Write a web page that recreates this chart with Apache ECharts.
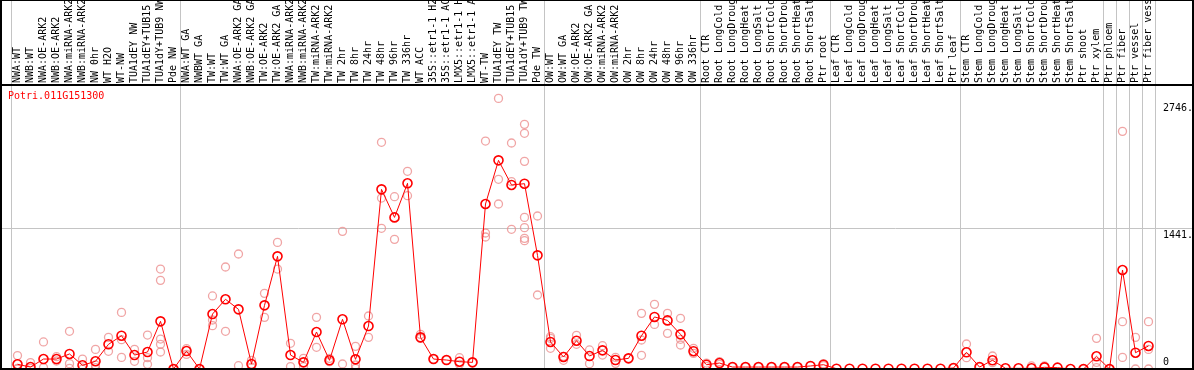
<!DOCTYPE html>
<html>
<head>
<meta charset="utf-8">
<script src="https://cdn.jsdelivr.net/npm/echarts@6/dist/echarts.min.js"></script>
<style>
  html, body { margin: 0; padding: 0; background: #fff; }
  #chart { width: 1194px; height: 370px; }
</style>
</head>
<body>
<div id="chart"></div>
<script>
const geneId = 'Potri.011G151300';

const categories = [
  'NWA:WT', 'NWB:WT', 'NWA:OE-ARK2', 'NWB:OE-ARK2', 'NWA:miRNA-ARK2', 'NWB:miRNA-ARK2',
  'NW 0hr', 'WT H2O', 'WT-NW', 'TUA1dEY NW', 'TUA1dEY+TUB15 NW', 'TUA1dY+TUB9 NW', 'Pde NW',
  'NWA:WT GA', 'NWBWT GA', 'TW:WT', 'TW:WT GA', 'NWA:OE-ARK2 GA', 'NWB:OE-ARK2 GA',
  'TW:OE-ARK2', 'TW:OE-ARK2 GA', 'NWA:miRNA-ARK2 GA', 'NWB:miRNA-ARK2 GA', 'TW:miRNA-ARK2',
  'TW:miRNA-ARK2 GA', 'TW 2hr', 'TW 8hr', 'TW 24hr', 'TW 48hr', 'TW 96hr', 'TW 336hr',
  'WT ACC', '35S::etr1-1 H2O', '35S::etr1-1 ACC', 'LMX5::etr1-1 H2O', 'LMX5::etr1-1 ACC',
  'WT-TW', 'TUA1dEY TW', 'TUA1dEY+TUB15 TW', 'TUA1dY+TUB9 TW', 'Pde TW',
  'OW:WT', 'OW:WT GA', 'OW:OE-ARK2', 'OW:OE-ARK2 GA', 'OW:miRNA-ARK2', 'OW:miRNA-ARK2 GA',
  'OW 2hr', 'OW 8hr', 'OW 24hr', 'OW 48hr', 'OW 96hr', 'OW 336hr',
  'Root CTR', 'Root LongCold', 'Root LongDrought', 'Root LongHeat', 'Root LongSalt',
  'Root ShortCold', 'Root ShortDrought', 'Root ShortHeat', 'Root ShortSalt', 'Ptr root',
  'Leaf CTR', 'Leaf LongCold', 'Leaf LongDrought', 'Leaf LongHeat', 'Leaf LongSalt',
  'Leaf ShortCold', 'Leaf ShortDrought', 'Leaf ShortHeat', 'Leaf ShortSalt', 'Ptr leaf',
  'Stem CTR', 'Stem LongCold', 'Stem LongDrought', 'Stem LongHeat', 'Stem LongSalt',
  'Stem ShortCold', 'Stem ShortDrought', 'Stem ShortHeat', 'Stem ShortSalt', 'Ptr shoot',
  'Ptr xylem', 'Ptr phloem', 'Ptr fiber', 'Ptr vessel', 'Ptr fiber vessel'
];

// first category index of each sample group (group separators)
const groupStarts = [0, 13, 41, 53, 63, 73, 84, 85, 86, 87];

const meanValues = [
  48, 20, 102, 102, 154, 38, 79, 253, 341, 143, 174, 488, 0,
  184, 0, 563, 714, 611, 51, 652, 1154, 143, 68, 379, 89, 509, 99, 440,
  1840, 1553, 1902, 324, 102, 92, 75, 68, 1690, 2137, 1885, 1898, 1164,
  277, 123, 290, 133, 191, 92, 109, 341, 533, 498, 355, 182,
  44, 61, 20, 20, 20, 20, 20, 20, 31, 44,
  3, 3, 3, 3, 3, 3, 3, 3, 3, 10,
  171, 20, 89, 7, 7, 7, 17, 14, 0, 0, 130,
  0, 1014, 167, 236
];

const replicateValues = [
  [137, 7, 0], [65, 7], [277, 14], [126, 82], [386, 55, 7], [102, 0],
  [201, 41, 14], [324, 181], [580, 300, 119], [201, 79], [348, 116, 48],
  [1024, 908, 307, 253, 174], [0],
  [208, 150], [0], [748, 502, 444], [1045, 386], [1178, 34], [89, 14],
  [775, 529], [1297, 1024], [263, 24], [109, 24], [529, 222], [109, 75],
  [1410, 51], [232, 41, 7], [543, 324], [2322, 1751, 1441], [1765, 1328],
  [2025, 1775], [355, 314], [102], [92], [116, 48], [68],
  [2335, 1393, 1352], [2772, 1943, 1690], [2315, 1919, 1431],
  [2506, 2414, 2127, 1553, 1448, 1338, 1314], [1567, 758],
  [331, 314, 212], [130, 89], [345, 253], [195, 55], [239, 143], [119, 58],
  [109], [570, 297, 140], [662, 457], [570, 365], [519, 304, 246], [212, 160],
  [61, 27], [75, 48], [20], [20], [20], [20], [20], [20], [31], [55, 34],
  [], [], [], [], [], [], [], [], [], [10],
  [256, 116], [20], [133, 65], [], [], [31], [31], [], [], [0], [314, 68, 14],
  [0], [2434, 485, 119], [324, 0], [485, 201, 0]
];

const yTickValues = [0, 1441, 2746];
const yTickLabels = ['0', '1441.', '2746.'];
const gridLineValues = [1441];
const yMax = 2909;

const MONO = "'DejaVu Sans Mono', 'Liberation Mono', monospace";
const GRAY = '#c4c4c4';
const PINK = 'rgb(236,142,142)';

const replicatePoints = [];
replicateValues.forEach((vals, i) => vals.forEach(v => replicatePoints.push([i, v])));

const isGroupStart = (idx) => groupStarts.indexOf(idx) >= 0;

const chart = echarts.init(document.getElementById('chart'), null, { renderer: 'canvas' });

chart.setOption({
  animation: false,
  backgroundColor: '#fff',
  title: {
    text: geneId,
    left: 8,
    top: 91,
    padding: 0,
    textStyle: { color: '#ff0000', fontFamily: MONO, fontSize: 10, fontWeight: 'normal' }
  },
  grid: [
    { left: 11, right: 39, top: 85, bottom: 1, outerBoundsMode: 'none', containLabel: false },
    { left: 11, right: 39, top: 0, height: 85, outerBoundsMode: 'none', containLabel: false },
    { left: 0, right: 0, top: 85, bottom: 1, outerBoundsMode: 'none', containLabel: false }
  ],
  xAxis: [
    {
      gridIndex: 0, type: 'category', data: categories, position: 'top', boundaryGap: true,
      axisLine: { show: false }, axisTick: { show: false },
      axisLabel: {
        interval: 0, rotate: 90, margin: 2, hideOverlap: false,
        fontFamily: MONO, fontSize: 10, color: '#000'
      },
      splitLine: { show: true, interval: isGroupStart, lineStyle: { color: GRAY, width: 1 } }
    },
    {
      gridIndex: 1, type: 'category', data: categories, boundaryGap: true,
      axisLine: { show: false }, axisTick: { show: false }, axisLabel: { show: false },
      splitLine: { show: true, interval: isGroupStart, lineStyle: { color: GRAY, width: 1 } }
    },
    {
      gridIndex: 2, type: 'value', min: 0, max: 1, show: false
    }
  ],
  yAxis: [
    {
      gridIndex: 0, type: 'value', min: 0, max: yMax, position: 'right',
      axisLine: { show: false }, axisTick: { show: false }, splitLine: { show: false },
      axisLabel: {
        customValues: yTickValues,
        margin: 8, align: 'left', verticalAlign: 'middle',
        fontFamily: MONO, fontSize: 10, color: '#000',
        formatter: (v) => {
          const t = yTickLabels[yTickValues.indexOf(v)];
          return v === 0 ? '{b|' + t + '}' : '{t|' + t + '}';
        },
        rich: {
          t: { fontFamily: MONO, fontSize: 10, color: '#000', padding: [14, 0, 0, 0] },
          b: { fontFamily: MONO, fontSize: 10, color: '#000', padding: [0, 0, 14, 0] }
        }
      }
    },
    {
      gridIndex: 1, type: 'value', min: 0, max: 1, show: false
    },
    {
      gridIndex: 2, type: 'value', min: 0, max: yMax,
      axisLine: { show: false },
      axisTick: { show: false, customValues: gridLineValues },
      axisLabel: { show: false },
      splitLine: { show: true, lineStyle: { color: GRAY, width: 1 } }
    }
  ],
  series: [
    {
      type: 'scatter', xAxisIndex: 0, yAxisIndex: 0,
      data: replicatePoints,
      symbol: 'circle', symbolSize: 8,
      itemStyle: { color: 'rgba(255,255,255,0)', borderColor: PINK, borderWidth: 1.3 },
      z: 2, silent: true
    },
    {
      type: 'line', xAxisIndex: 0, yAxisIndex: 0,
      data: meanValues,
      symbol: 'circle', symbolSize: 9, showAllSymbol: true,
      lineStyle: { color: '#ff0000', width: 1 },
      itemStyle: { color: 'rgba(255,255,255,0)', borderColor: '#ff0000', borderWidth: 1.6 },
      z: 3, silent: true
    }
  ],
  graphic: [
    {
      type: 'rect', z: 100, silent: true,
      shape: { x: 1, y: 0, width: 1192, height: 369 },
      style: { fill: 'none', stroke: '#000', lineWidth: 2 }
    },
    {
      type: 'line', z: 100, silent: true,
      shape: { x1: 0, y1: 85, x2: 1194, y2: 85 },
      style: { stroke: '#000', lineWidth: 2 }
    }
  ]
});
</script>
</body>
</html>
